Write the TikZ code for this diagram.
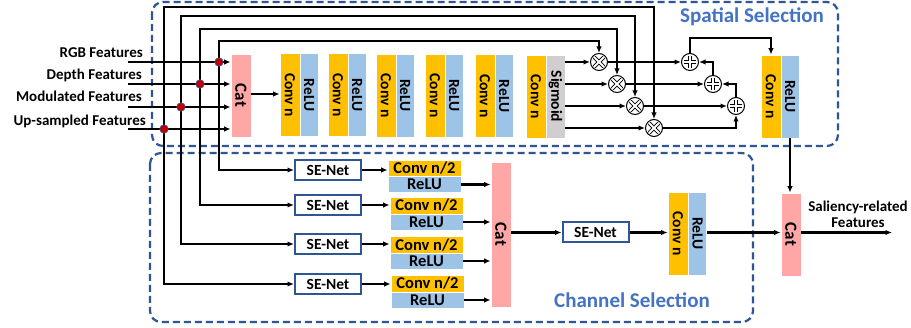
\documentclass[tikz,border=0pt]{standalone}
\usepackage{graphicx}
\usepackage{fontspec}
\setmainfont{Carlito}
\usetikzlibrary{arrows.meta,calc}
\definecolor{convc}{HTML}{FFC000}
\definecolor{reluc}{HTML}{9DC3E6}
\definecolor{catc}{HTML}{FFA7A7}
\definecolor{sigc}{HTML}{D0CECE}
\definecolor{dashc}{HTML}{2F5597}
\definecolor{titlec}{HTML}{4472C4}
\definecolor{dotc}{HTML}{C00000}
\begin{document}
\begin{tikzpicture}[x=1pt,y=-1pt,
  blk/.style={inner sep=0pt, draw=white, line width=0.8pt, font=\bfseries\fontsize{15.5}{17}\selectfont},
  vconv/.style={blk, fill=convc, minimum width=20pt, minimum height=83pt},
  vrelu/.style={blk, fill=reluc, minimum width=18pt, minimum height=83pt},
  vsig/.style={blk, fill=sigc, minimum width=19pt, minimum height=83pt},
  vcat/.style={blk, fill=catc, minimum width=20pt, minimum height=83pt, font=\bfseries\fontsize{17}{19}\selectfont},
  hconv/.style={blk, fill=convc, minimum width=73pt, minimum height=17pt, font=\bfseries\fontsize{16.5}{18}\selectfont},
  hrelu/.style={blk, fill=reluc, minimum width=73pt, minimum height=16pt, font=\bfseries\fontsize{16.5}{18}\selectfont},
  senet/.style={draw=dashc, line width=2pt, fill=white, minimum width=66pt, minimum height=20pt, inner sep=0pt, font=\bfseries\fontsize{15.5}{17}\selectfont},
  lbl/.style={inner sep=0pt, font=\bfseries\fontsize{15}{16}\selectfont},
  ttl/.style={inner sep=0pt, text=titlec, font=\bfseries\fontsize{21}{23}\selectfont},
  dbox/.style={draw=dashc, line width=2.2pt, dash pattern=on 7pt off 4pt, rounded corners=11pt},
  arr/.style={line width=2.1pt, -{Latex[length=6.5pt,width=5.5pt]}},
  jdot/.style={circle, fill=dotc, draw=dashc, line width=0.6pt, minimum size=8.5pt, inner sep=0pt},
  opc/.style={circle, draw, fill=white, line width=1pt, minimum size=17pt, inner sep=0pt},
  mult/.style={opc, path picture={
     \draw[line width=3.8pt] ([shift={(-4.8,-4.8)}]path picture bounding box.center) -- ([shift={(4.8,4.8)}]path picture bounding box.center)
        ([shift={(-4.8,4.8)}]path picture bounding box.center) -- ([shift={(4.8,-4.8)}]path picture bounding box.center);
     \draw[white, line width=1.8pt] ([shift={(-4.8,-4.8)}]path picture bounding box.center) -- ([shift={(4.8,4.8)}]path picture bounding box.center)
        ([shift={(-4.8,4.8)}]path picture bounding box.center) -- ([shift={(4.8,-4.8)}]path picture bounding box.center);}},
  addr/.style={opc, path picture={
     \draw[line width=3.8pt] ([shift={(-6,0)}]path picture bounding box.center) -- ([shift={(6,0)}]path picture bounding box.center)
        ([shift={(0,-6)}]path picture bounding box.center) -- ([shift={(0,6)}]path picture bounding box.center);
     \draw[white, line width=1.8pt] ([shift={(-6,0)}]path picture bounding box.center) -- ([shift={(6,0)}]path picture bounding box.center)
        ([shift={(0,-6)}]path picture bounding box.center) -- ([shift={(0,6)}]path picture bounding box.center);}}
]
\useasboundingbox (0,0) rectangle (911,328);
\fill[white] (0,0) rectangle (911,328);

% selection frames
\draw[dbox] (152,2) rectangle (838,146);
\draw[dbox] (150,153) rectangle (753,322);
\node[ttl] (tsp) at (752,17) {Spatial Selection};
\node[ttl] (tch) at (632,300) {Channel Selection};

% spatial branch blocks
\node[vcat]  (cat1) at (241,95.5) {\rotatebox{-90}{Cat}};
\node[vconv] (c1) at (290,95) {\rotatebox{-90}{Conv n}};
\node[vrelu] (r1) at (309,95) {\rotatebox{-90}{ReLU}};
\node[vconv] (c2) at (338,95) {\rotatebox{-90}{Conv n}};
\node[vrelu] (r2) at (357,95) {\rotatebox{-90}{ReLU}};
\node[vconv] (c3) at (386,95.5) {\rotatebox{-90}{Conv n}};
\node[vrelu] (r3) at (405,95.5) {\rotatebox{-90}{ReLU}};
\node[vconv] (c4) at (435,95.5) {\rotatebox{-90}{Conv n}};
\node[vrelu] (r4) at (454,95.5) {\rotatebox{-90}{ReLU}};
\node[vconv] (c5) at (485,96) {\rotatebox{-90}{Conv n}};
\node[vrelu] (r5) at (504,96) {\rotatebox{-90}{ReLU}};
\node[vconv] (c6) at (536,96.5) {\rotatebox{-90}{Conv n}};
\node[vsig]  (sg) at (555.5,96.5) {\rotatebox{-90}{Sigmoid}};
\node[vconv] (c7) at (771,96.5) {\rotatebox{-90}{Conv n}};
\node[vrelu] (r7) at (790,96.5) {\rotatebox{-90}{ReLU}};

% multipliers and adders
\node[mult] (m1) at (599,62) {};
\node[mult] (m2) at (617,84) {};
\node[mult] (m3) at (635,106) {};
\node[mult] (m4) at (654,128) {};
\node[addr] (a1) at (690,62) {};
\node[addr] (a2) at (713,84) {};
\node[addr] (a3) at (736,106) {};

% channel branch blocks
\node[senet] (se1) at (328,170) {SE-Net};
\node[senet] (se2) at (328,205) {SE-Net};
\node[senet] (se3) at (328,244) {SE-Net};
\node[senet] (se4) at (328,284) {SE-Net};
\node[hconv] (cn1) at (424.5,168.5) {Conv n/2};
\node[hrelu] (rl1) at (424.5,184.5) {ReLU};
\node[hconv] (cn2) at (426.5,205.5) {Conv n/2};
\node[hrelu] (rl2) at (426.5,222) {ReLU};
\node[hconv] (cn3) at (426.5,245) {Conv n/2};
\node[hrelu] (rl3) at (426.5,261) {ReLU};
\node[hconv] (cn4) at (427.5,283.5) {Conv n/2};
\node[hrelu] (rl4) at (427.5,300) {ReLU};
\node[blk, fill=catc, minimum width=20pt, minimum height=145pt, font=\bfseries\fontsize{17}{19}\selectfont] (cat2) at (501,234.5) {\rotatebox{-90}{Cat}};
\node[senet] (se5) at (595.5,232.5) {SE-Net};
\node[vconv] (c8) at (678,233.5) {\rotatebox{-90}{Conv n}};
\node[vrelu] (r8) at (697.5,233.5) {\rotatebox{-90}{ReLU}};
\node[vcat]  (cat3) at (791,234.5) {\rotatebox{-90}{Cat}};

% inputs
\coordinate (inR) at (128,62);
\coordinate (inD) at (128,84);
\coordinate (inM) at (128,107);
\coordinate (inU) at (128,129);
\node[lbl, anchor=base east] (lR) at (143,57.5) {RGB Features};
\node[lbl, anchor=base east] (lD) at (142,79.5) {Depth Features};
\node[lbl, anchor=base east] (lM) at (142,102) {Modulated Features};
\node[lbl, anchor=base east] (lU) at (146,126) {Up-sampled Features};
\draw[arr] (inR) -- (inR -| cat1.west);
\draw[arr] (inD) -- (inD -| cat1.west);
\draw[arr] (inM) -- (inM -| cat1.west);
\draw[arr] (inU) -- (inU -| cat1.west);

% junctions and skip lines
\coordinate (jR) at (219,62);
\coordinate (jD) at (200,84);
\coordinate (jM) at (181,107);
\coordinate (jU) at (164,129);
\coordinate (tR) at (219,41);
\coordinate (tD) at (200,29);
\coordinate (tM) at (181,16);
\coordinate (tU) at (164,7);
\draw[arr] (jR) -- (tR) -| (m1);
\draw[arr] (jD) -- (tD) -| (m2);
\draw[arr] (jM) -- (tM) -| (m3);
\draw[arr] (jU) -- (tU) -| (m4);
\draw[arr] (jR) |- (se1);
\draw[arr] (jD) |- (se2);
\draw[arr] (jM) |- (se3);
\draw[arr] (jU) |- (se4);
\node[jdot] at (jR) {};
\node[jdot] at (jD) {};
\node[jdot] at (jM) {};
\node[jdot] at (jU) {};

% spatial flow
\draw[arr] (cat1.east |- 0,94) -- (c1.west |- 0,94);
\draw[arr] (sg.east |- m1) -- (m1);
\draw[arr] (sg.east |- m2) -- (m2);
\draw[arr] (sg.east |- m3) -- (m3);
\draw[arr] (sg.east |- m4) -- (m4);
\draw[arr] (m1) -- (a1);
\draw[arr] (m2) -- (a2);
\draw[arr] (m3) -- (a3);
\draw[arr] (m4) -| (a3);
\draw[arr] (a3) |- (a2);
\draw[arr] (a2) |- (a1);
\coordinate (loop) at (771,38);
\draw[arr] (a1) |- (loop) -- (c7.north);
\draw[arr] (r7.south) -- (r7.south |- cat3.north);

% channel flow
\draw[arr] (se1) -- (se1 -| cn1.west);
\draw[arr] (se2) -- (se2 -| cn2.west);
\draw[arr] (se3) -- (se3 -| cn3.west);
\draw[arr] (se4) -- (se4 -| cn4.west);
\draw[arr] (rl1.east) -- (rl1 -| cat2.west);
\draw[arr] (rl2.east) -- (rl2 -| cat2.west);
\draw[arr] (rl3.east) -- (rl3 -| cat2.west);
\draw[arr] (rl4.east) -- (rl4 -| cat2.west);
\draw[arr] (cat2.east |- se5) -- (se5);
\draw[arr] (se5) -- (se5 -| c8.west);
\draw[arr] (r8.east |- se5) -- (se5 -| cat3.west);

% output
\coordinate (out) at (892,232.5);
\draw[arr] (cat3.east |- out) -- (out);
\node[lbl, align=center] (lout) at (858,214) {Saliency-related\\Features};
\end{tikzpicture}
\end{document}
